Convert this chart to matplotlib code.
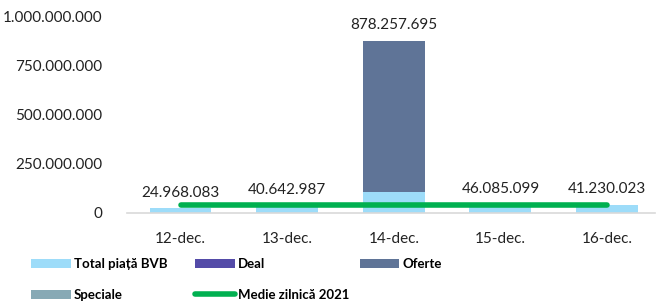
import matplotlib.pyplot as plt
import matplotlib.ticker as mticker
import numpy as np

plt.rcParams['font.family'] = ['Lato', 'DejaVu Sans']

days = ["12-dec.", "13-dec.", "14-dec.", "15-dec.", "16-dec."]
total_bvb = [24968083, 40642987, 108000000, 46085099, 41230023]
deal = [0, 0, 0, 0, 0]
oferte = [0, 0, 770257695, 0, 0]
speciale = [0, 0, 0, 0, 0]
medie_2021 = 38000000
yticks = [0, 250000000, 500000000, 750000000, 1000000000]


def fmt(v):
    return f"{int(round(v)):,}".replace(",", ".")


fig = plt.figure(figsize=(6.59, 3.02), dpi=100)
ax = fig.add_axes([0.193, 0.295, 0.801, 0.649])

x = np.arange(len(days))
w = 0.58
bottom = np.zeros(len(days))
series = [
    ("Total piață BVB", total_bvb, "#9DDCF9"),
    ("Deal", deal, "#544BA8"),
    ("Oferte", oferte, "#5F7497"),
    ("Speciale", speciale, "#87A9B5"),
]
handles = {}
for name, vals, col in series:
    vals = np.array(vals, dtype=float)
    handles[name] = ax.bar(x, vals, w, bottom=bottom, color=col, label=name)
    bottom += vals

line, = ax.plot([x[0], x[-1]], [medie_2021, medie_2021], color="#00B050",
                lw=4, solid_capstyle="round", label="Medie zilnică 2021")
handles["Medie zilnică 2021"] = line

for xi, tot in zip(x, bottom):
    ax.annotate(fmt(tot), (xi, tot), xytext=(0, 6), textcoords="offset points",
                ha="center", va="bottom", fontsize=11, color="#222222")

ax.set_xlim(-0.5, 4.45)
ax.set_ylim(0, 1000000000)
ax.set_yticks(yticks)
ax.yaxis.set_major_formatter(mticker.FuncFormatter(lambda v, p: fmt(v)))
ax.set_xticks(x)
ax.set_xticklabels(days)
ax.tick_params(axis="both", length=0, labelsize=11, colors="#222222")
ax.tick_params(axis="y", pad=18)
ax.tick_params(axis="x", pad=14)
for s in ["top", "right", "left"]:
    ax.spines[s].set_visible(False)
ax.spines["bottom"].set_color("#D9D9D9")
ax.spines["bottom"].set_linewidth(1.2)

# legend laid out like Excel: equal-width columns, two rows
legend_slots = [
    ("Total piață BVB", 0.047, 0.126),
    ("Deal", 0.296, 0.126),
    ("Oferte", 0.546, 0.126),
    ("Speciale", 0.047, 0.023),
    ("Medie zilnică 2021", 0.296, 0.023),
]
for name, lx, ly in legend_slots:
    fig.legend([handles[name]], [name], loc="center left", bbox_to_anchor=(lx, ly),
               frameon=False, prop={"weight": "bold", "size": 9.5},
               handlelength=3.0, handleheight=0.7, handletextpad=0.25,
               borderaxespad=0, borderpad=0)

fig.savefig("out.png", dpi=100)
